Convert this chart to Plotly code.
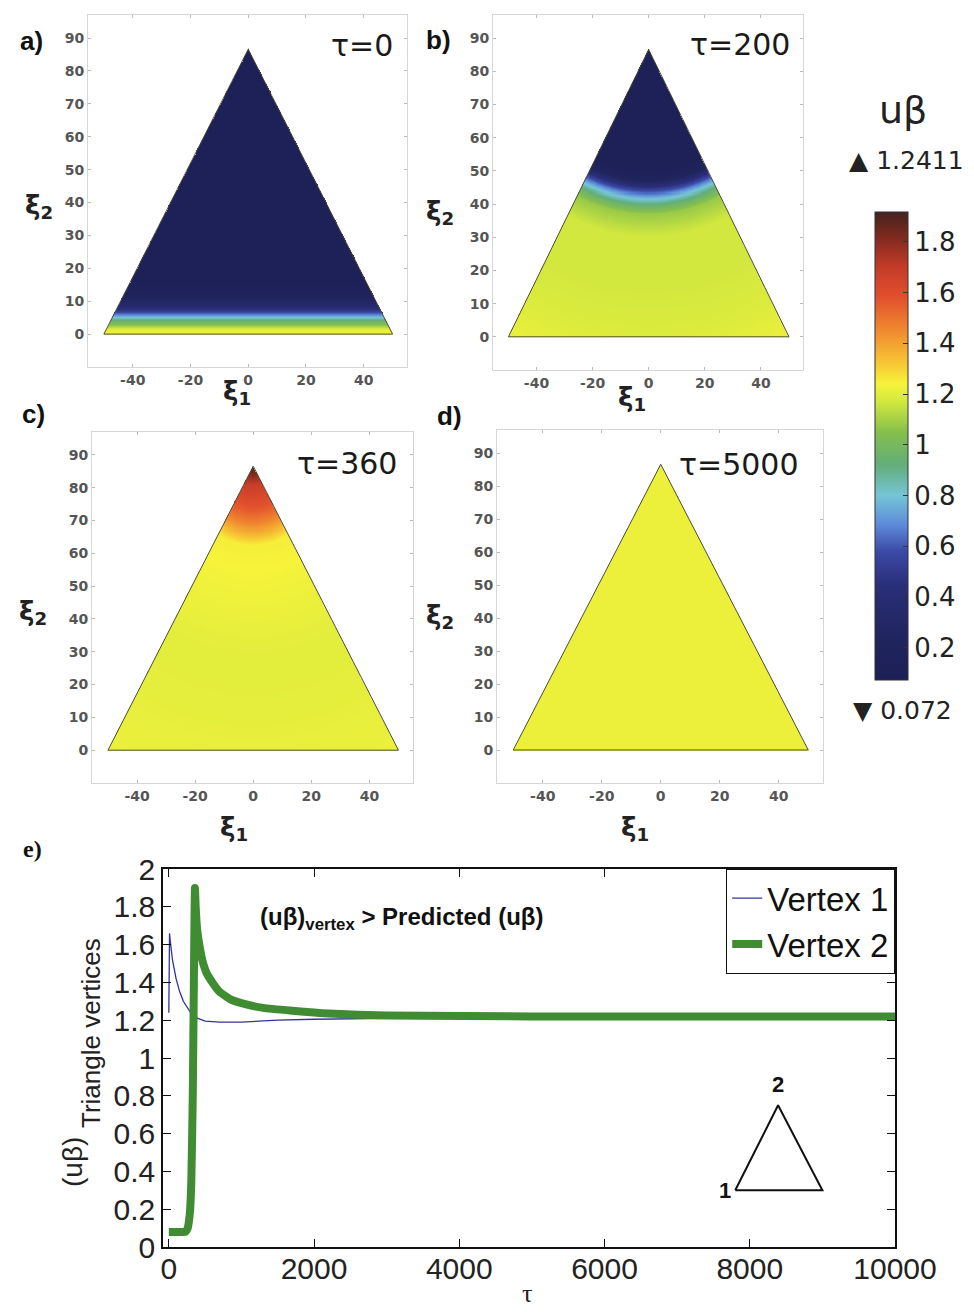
import numpy as np
import plotly.graph_objects as go

W, H = 974, 1312

# ---------------- colour scale ----------------
cbar_min = 0.072
cbar_max = 1.918
cs_values = [0.072, 0.25, 0.45, 0.58, 0.68, 0.80, 0.92, 1.05, 1.17, 1.24, 1.32, 1.45, 1.58, 1.70, 1.82, 1.918]
cs_colors = ['#1d2056', '#21255f', '#2a2f7a', '#3b4aa6', '#5b88d8', '#76c5d6', '#62ad7a', '#86bf4c',
             '#d2e83e', '#f6f33a', '#f7c734', '#f08a30', '#e2502c', '#c43b28', '#7e2a1e', '#45221f']
cbar_tickvals = [0.2, 0.4, 0.6, 0.8, 1.0, 1.2, 1.4, 1.6, 1.8]
cbar_ticktext = ['0.2', '0.4', '0.6', '0.8', '1', '1.2', '1.4', '1.6', '1.8']

# ---------------- triangle fields (profiles) ----------------
tri_x = [-50, 50, 0, -50]
tri_y = [0, 0, 86.6, 0]
tri_xticks = [-40, -20, 0, 20, 40]
tri_xticktext = ['-40', '-20', '0', '20', '40']
tri_yticks = [0, 10, 20, 30, 40, 50, 60, 70, 80, 90]

# a) tau=0 : value vs xi2
a_xi2 = [0, 1.5, 3, 4.2, 5.5, 7, 9, 12, 16, 90]
a_val = [1.24, 1.20, 1.05, 0.90, 0.72, 0.50, 0.32, 0.18, 0.10, 0.09]
# b) tau=200 : value vs distance from point (0,100)
b_dist = [0, 50, 53, 55.5, 58, 60.5, 63, 70, 85, 100, 112]
b_val = [0.10, 0.11, 0.22, 0.50, 0.76, 0.95, 1.08, 1.17, 1.17, 1.19, 1.22]
# c) tau=360 : value vs distance from apex
c_dist = [0, 3, 6, 10, 14, 18, 21, 24, 60, 100]
c_val = [1.90, 1.80, 1.68, 1.62, 1.55, 1.45, 1.35, 1.25, 1.20, 1.22]
# d) tau=5000 : uniform
d_dist = [0, 100]
d_val = [1.22, 1.22]

panel_tau = ['τ=0', 'τ=200', 'τ=360', 'τ=5000']
panel_letters = ['a)', 'b)', 'c)', 'd)']

# ---------------- e) vertex time series ----------------
t1 = [0, 1, 10, 20, 50, 100, 150, 200, 300, 400, 500, 700, 1000, 1500, 2000, 3000, 5000, 10000]
v1 = [1.24, 1.55, 1.66, 1.62, 1.52, 1.42, 1.35, 1.30, 1.24, 1.21, 1.195, 1.19, 1.19, 1.20, 1.205, 1.21, 1.21, 1.21]
t2 = [0, 150, 230, 260, 290, 310, 330, 345, 360, 370, 390, 420, 460, 520, 600, 700, 850, 1000,
      1300, 1700, 2200, 3000, 5000, 10000]
v2 = [0.08, 0.08, 0.08, 0.10, 0.18, 0.35, 0.80, 1.40, 1.90, 1.80, 1.68, 1.60, 1.52, 1.45, 1.40, 1.35,
      1.31, 1.29, 1.265, 1.25, 1.235, 1.225, 1.22, 1.22]
e_xticks = [0, 2000, 4000, 6000, 8000, 10000]
e_xticktext = ['0', '2000', '4000', '6000', '8000', '10000']
e_yticks = [0, 0.2, 0.4, 0.6, 0.8, 1.0, 1.2, 1.4, 1.6, 1.8, 2.0]
e_yticktext = ['0', '0.2', '0.4', '0.6', '0.8', '1', '1.2', '1.4', '1.6', '1.8', '2']
inset_x = [7800, 9000, 8390, 7800]
inset_y = [0.30, 0.30, 0.75, 0.30]
inset_lab_x = [7660, 8390]
inset_lab_y = [0.29, 0.85]
inset_lab = ['1', '2']

# ---------------- helpers ----------------
def px(x):
    return x / W

def py(y):
    return 1 - y / H

colorscale = [[(v - cbar_min) / (cbar_max - cbar_min), c] for v, c in zip(cs_values, cs_colors)]

gx = np.linspace(-50, 50, 321)
gy = np.linspace(0, 86.6, 281)
GX, GY = np.meshgrid(gx, gy)
inside = GY <= np.sqrt(3) * (50 - np.abs(GX)) + 1e-9

def field(kind, prof_x, prof_v):
    if kind == 'xi2':
        d = GY
    elif kind == 'top':
        d = np.sqrt(GX ** 2 + (GY - 100) ** 2)
    else:
        d = np.sqrt(GX ** 2 + (GY - 86.6) ** 2)
    z = np.interp(d, prof_x, prof_v)
    z = np.where(inside, z, np.nan)
    return z

fields = [field('xi2', a_xi2, a_val), field('top', b_dist, b_val),
          field('apex', c_dist, c_val), field('apex', d_dist, d_val)]

# pixel frames of the four panels: (left, right, top, bottom)
frames = [(88, 407, 15, 367), (493, 803, 15, 370), (92, 413, 432, 783), (497, 823, 430, 783)]

fig = go.Figure()
layout = dict(width=W, height=H, margin=dict(l=0, r=0, t=0, b=0, autoexpand=False),
              paper_bgcolor='white', plot_bgcolor='white', showlegend=True)

for i in range(4):
    n = '' if i == 0 else str(i + 1)
    L, R, T, B = frames[i]
    fig.add_trace(go.Heatmap(
        x=gx, y=gy, z=fields[i], colorscale=colorscale, zmin=cbar_min, zmax=cbar_max,
        showscale=(i == 0), xaxis='x' + n, yaxis='y' + n, hoverongaps=False, showlegend=False,
        colorbar=dict(x=px(875), xanchor='left', y=py(446), yanchor='middle', len=468 / H,
                      lenmode='fraction', thickness=33, thicknessmode='pixels', outlinewidth=1,
                      outlinecolor='#333', tickvals=cbar_tickvals, ticktext=cbar_ticktext,
                      ticks='inside', ticklen=5, tickcolor='#333', xpad=0, ypad=0,
                      tickfont=dict(family='DejaVu Sans', size=26, color='#222'))))
    fig.add_trace(go.Scatter(x=tri_x, y=tri_y, mode='lines', line=dict(color='#4d4d33', width=1),
                             xaxis='x' + n, yaxis='y' + n, showlegend=False, hoverinfo='skip'))
    ax = dict(domain=[px(L), px(R)], range=[-55.5, 55], tickvals=tri_xticks, ticktext=tri_xticktext,
              showline=True, mirror='ticks', linecolor='#d6d6d6', linewidth=1, ticks='inside',
              ticklen=3, tickcolor='#bbbbbb', showgrid=False, zeroline=False,
              tickfont=dict(family='DejaVu Sans', size=14, color='#555', weight='bold'))
    ay = dict(domain=[py(B), py(T)], range=[-10, 97], tickvals=tri_yticks,
              showline=True, mirror='ticks', linecolor='#d6d6d6', linewidth=1, ticks='inside',
              ticklen=3, tickcolor='#bbbbbb', showgrid=False, zeroline=False,
              tickfont=dict(family='DejaVu Sans', size=14, color='#555', weight='bold'))
    ax['anchor'] = 'y' + n
    ay['anchor'] = 'x' + n
    layout['xaxis' + n] = ax
    layout['yaxis' + n] = ay

# e) line plot
fig.add_trace(go.Scatter(x=t1, y=v1, mode='lines', name='Vertex 1', line=dict(color='#33339a', width=1.3),
                         xaxis='x5', yaxis='y5'))
fig.add_trace(go.Scatter(x=t2, y=v2, mode='lines', name='Vertex 2',
                         line=dict(color='#3f8c33', width=8, shape='spline', smoothing=0.4),
                         xaxis='x5', yaxis='y5'))
fig.add_trace(go.Scatter(x=inset_x, y=inset_y, mode='lines', line=dict(color='#111', width=2),
                         xaxis='x5', yaxis='y5', showlegend=False, hoverinfo='skip'))
fig.add_trace(go.Scatter(x=inset_lab_x, y=inset_lab_y, mode='text', text=inset_lab,
                         textfont=dict(family='Liberation Sans', size=22, color='#111', weight='bold'),
                         xaxis='x5', yaxis='y5', showlegend=False, hoverinfo='skip'))

layout['xaxis5'] = dict(domain=[px(163), px(895)], range=[-80, 10000], anchor='y5', tickvals=e_xticks,
                        ticktext=e_xticktext, ticklabelstandoff=-6,
                        showline=True, mirror='ticks', linecolor='#111', linewidth=1.5, ticks='inside',
                        ticklen=8, tickcolor='#111', showgrid=False, zeroline=False,
                        tickfont=dict(family='Liberation Sans', size=30, color='#222'))
layout['yaxis5'] = dict(domain=[py(1247), py(869)], range=[0, 2], anchor='x5', tickvals=e_yticks,
                        ticktext=e_yticktext, showline=True, mirror='ticks', linecolor='#111', linewidth=1.5,
                        ticks='inside', ticklen=8, tickcolor='#111', showgrid=False, zeroline=False,
                        tickfont=dict(family='Liberation Sans', size=30, color='#222'))
layout['legend'] = dict(x=px(895), xanchor='right', y=py(869), yanchor='top', bgcolor='white',
                        bordercolor='#111', borderwidth=1.2,
                        font=dict(family='Liberation Sans', size=33, color='#111'),
                        itemwidth=30, tracegroupgap=0)

ann = []
def add_text(x, y, text, size, family='DejaVu Sans', weight='normal', color='#222', angle=0, xanchor='center'):
    ann.append(dict(x=px(x), y=py(y), xref='paper', yref='paper', text=text, showarrow=False,
                    xanchor=xanchor, yanchor='middle', textangle=angle,
                    font=dict(family=family, size=size, color=color, weight=weight)))

xi1_pos = [(237, 392), (632, 398), (234, 828), (635, 828)]
xi2_pos = [(39, 207), (440, 212), (33, 612), (440, 617)]
let_pos = [(31, 41), (438, 40), (33, 414), (449, 416)]
tau_pos = [(362, 45), (740, 44), (347, 463), (739, 464)]
for i in range(4):
    add_text(*xi1_pos[i], 'ξ<sub>1</sub>', 26, weight='bold', color='#222')
    add_text(*xi2_pos[i], 'ξ<sub>2</sub>', 26, weight='bold', color='#222')
    add_text(*let_pos[i], panel_letters[i], 26, family='Liberation Sans', weight='bold', color='#111')
    add_text(*tau_pos[i], panel_tau[i], 30, color='#1a1a1a')

add_text(903, 110, 'uβ', 38, color='#222')
add_text(906, 160, '▲ 1.2411', 25, color='#222')
add_text(902, 710, '▼ 0.072', 25, color='#222')

add_text(32, 849, 'e)', 24, family='Liberation Serif', weight='bold', color='#111')
add_text(527, 1293, 'τ', 26, family='Liberation Serif', color='#222')
add_text(72, 1162, '(uβ)', 28, family='Liberation Sans', color='#222', angle=-90)
add_text(91, 1033, 'Triangle vertices', 26, family='Liberation Sans', color='#222', angle=-90)
add_text(401, 918, '(uβ)<sub>vertex</sub> > Predicted (uβ)', 24, family='Liberation Sans',
         weight='bold', color='#111')

layout['annotations'] = ann
fig.update_layout(**layout)
fig.write_html('out.html')
